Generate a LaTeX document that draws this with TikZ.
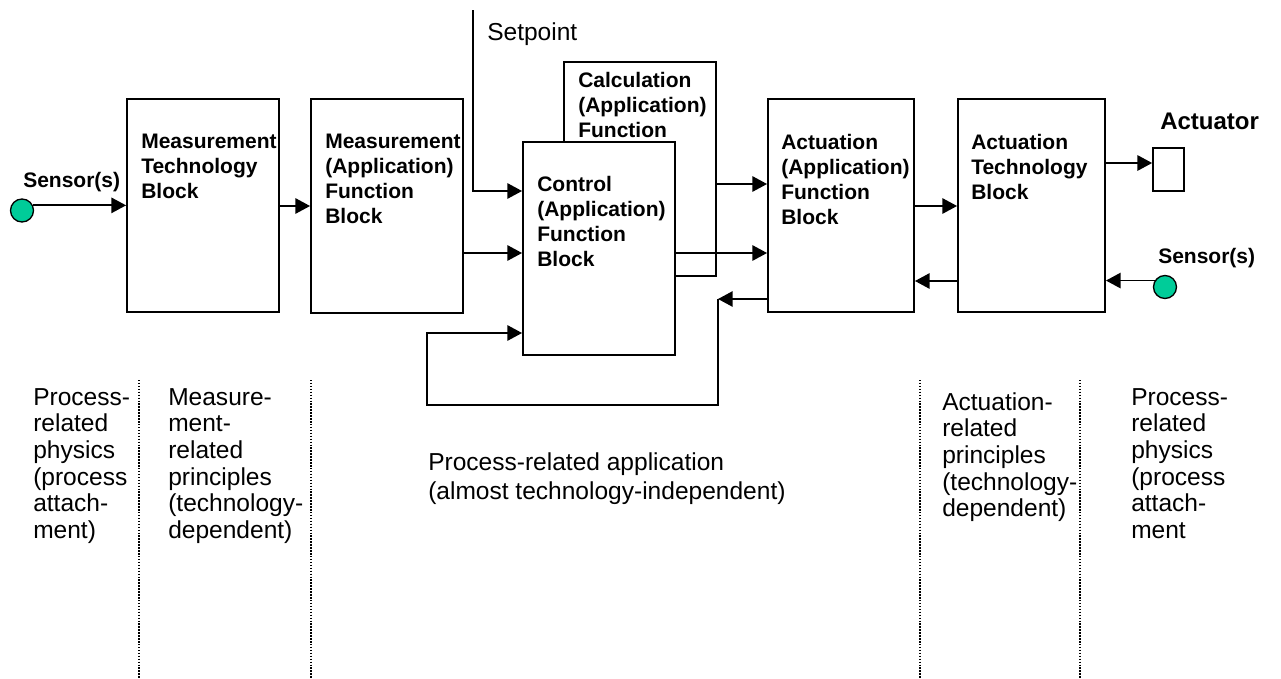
\documentclass[tikz,border=0pt]{standalone}
\usepackage{fontspec}
\setmainfont{Liberation Sans}
\usetikzlibrary{arrows.meta,fit}
\definecolor{sensorgreen}{RGB}{0,204,153}
\begin{document}
\begin{tikzpicture}[x=0.75pt,y=-0.75pt,
 blk/.style={draw, line width=1.4pt, fill=white, inner sep=0pt},
 blktext/.style={anchor=north west, inner sep=0pt, align=left, font=\bfseries\fontsize{15.75}{18.75}\selectfont},
 note/.style={anchor=north west, inner sep=0pt, align=left, font=\fontsize{18.4}{20}\selectfont},
 conn/.style={line width=1.3pt, -{Triangle[length=11pt,width=11.5pt]}},
 sep/.style={line width=1.2pt, dash pattern=on 1.1pt off 1.1pt},
 sensor/.style={circle, draw, line width=1pt, fill=sensorgreen, minimum size=17.25pt, inner sep=0pt},
 lbl/.style={anchor=base west, inner sep=0pt, font=\bfseries\fontsize{15.75}{18}\selectfont},
]
\useasboundingbox (0,0) rectangle (1281,678);

% y levels
\coordinate (y163) at (0,163);
\coordinate (y184) at (0,184);
\coordinate (y191) at (0,191);
\coordinate (y206) at (0,206);
\coordinate (y253) at (0,253);
\coordinate (y281) at (0,281);
\coordinate (y299) at (0,299);
\coordinate (y333) at (0,333);

% blocks
\node[blk, fit={(127,99) (279,312)}] (mt) {};
\node[blk, fit={(311,99) (463,313)}] (ma) {};
\node[blk, fit={(564,62) (716,276)}] (ca) {};
\node[blk, fit={(523,142) (675,355)}] (ct) {};
\node[blk, fit={(768,99) (914,312)}] (aa) {};
\node[blk, fit={(958,99) (1105,312)}] (at) {};
\node[blk, line width=1.3pt, fit={(1153,148) (1184,191)}] (act) {};

% block texts
\node[blktext] (mtt) at (141,134) {Measurement\\Technology\\Block};
\node[blktext] (mat) at (325,134) {Measurement\\(Application)\\Function\\Block};
\node[blktext] (cat) at (578,72) {Calculation\\(Application)\\Function};
\node[blktext] (ctt) at (537,176) {Control\\(Application)\\Function\\Block};
\node[blktext] (aat) at (781,134) {Actuation\\(Application)\\Function\\Block};
\node[blktext] (att) at (971,134) {Actuation\\Technology\\Block};

% sensors and labels
\node[sensor] (s1) at (22,210.5) {};
\node[sensor] (s2) at (1165,287) {};
\node[lbl] (s1l) at (23,187) {Sensor(s)};
\node[lbl] (s2l) at (1158,263) {Sensor(s)};
\node[anchor=base west, inner sep=0pt, font=\bfseries\fontsize{18}{20}\selectfont] (actl) at (1160,129) {Actuator};
\node[anchor=base west, inner sep=0pt, font=\fontsize{18.4}{20}\selectfont] (spl) at (487,40) {Setpoint};

% connectors
\coordinate (sp) at (473,10);
\coordinate (fbc) at (718,299);
\coordinate (fbl) at (427,405);
\draw[conn] (s1.25) -- (s1.25 -| mt.west);
\draw[conn] (mt.east |- y206) -- (ma.west |- y206);
\draw[conn] (ma.east |- y253) -- (ct.west |- y253);
\draw[conn] (sp) -- (sp |- y191) -- (ct.west |- y191);
\draw[conn] (ca.east |- y184) -- (aa.west |- y184);
\draw[conn] (ct.east |- y253) -- (aa.west |- y253);
\draw[conn] (aa.west |- y299) -- (fbc);
\draw[conn] (fbc) |- (fbl) |- (ct.west |- y333);
\draw[conn] (aa.east |- y206) -- (at.west |- y206);
\draw[conn] (at.west |- y281) -- (aa.east |- y281);
\draw[conn] (at.east |- y163) -- (act.west |- y163);
\draw[conn] (s2.148) -- (s2.148 -| at.east);

% separators
\coordinate (d1t) at (139,380); \coordinate (d1b) at (139,678);
\coordinate (d2t) at (311,380); \coordinate (d2b) at (311,678);
\coordinate (d3t) at (920,380); \coordinate (d3b) at (920,678);
\coordinate (d4t) at (1080,380); \coordinate (d4b) at (1080,678);
\draw[sep] (d1t) -- (d1b);
\draw[sep] (d2t) -- (d2b);
\draw[sep] (d3t) -- (d3b);
\draw[sep] (d4t) -- (d4b);

% notes
\node[note] (n1) at (33,388) {Process-\\related\\physics\\(process\\attach-\\ment)};
\node[note] (n2) at (168,388) {Measure-\\ment-\\related\\principles\\(technology-\\dependent)};
\node[note, font=\fontsize{18.4}{21.75}\selectfont] (n3) at (428,452) {Process-related application\\(almost technology-independent)};
\node[note] (n4) at (942,392) {Actuation-\\related\\principles\\(technology-\\dependent)};
\node[note] (n5) at (1131,388) {Process-\\related\\physics\\(process\\attach-\\ment};
\end{tikzpicture}
\end{document}
